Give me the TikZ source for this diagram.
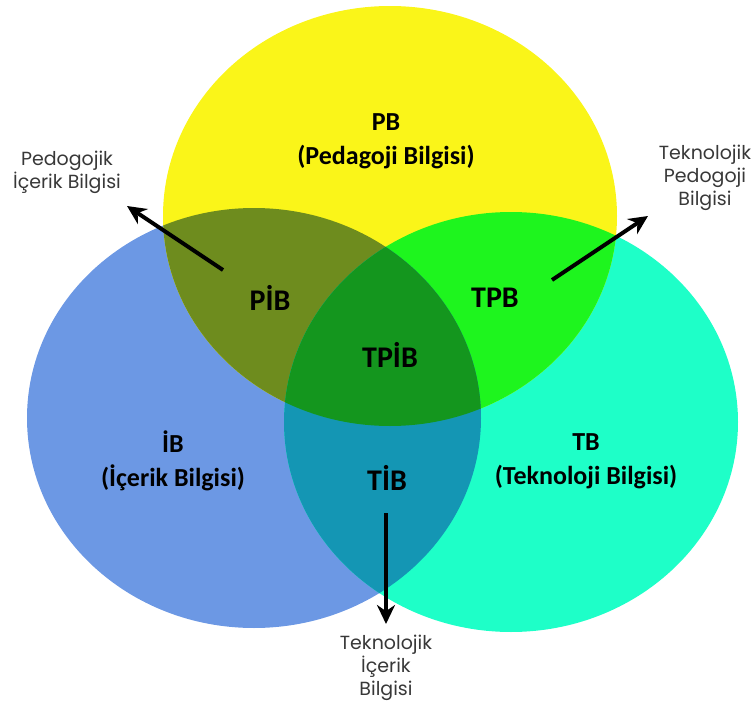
\documentclass[tikz,border=0pt]{standalone}
\usepackage{fontspec}
\setmainfont{Carlito}
\newfontfamily\smallfont{Poppins}
\usetikzlibrary{arrows.meta}
\definecolor{cyel}{RGB}{250,245,25}
\definecolor{cblue}{RGB}{108,152,228}
\definecolor{cteal}{RGB}{30,255,200}
\definecolor{colive}{RGB}{110,140,30}
\definecolor{cgreen}{RGB}{30,245,30}
\definecolor{ccyan}{RGB}{20,150,180}
\definecolor{cdark}{RGB}{20,150,30}
\begin{document}
\begin{tikzpicture}[x=1pt,y=-1pt,
  big/.style={font=\bfseries\fontsize{26}{34}\selectfont, align=center, inner sep=0pt},
  mid/.style={font=\bfseries\fontsize{30}{34}\selectfont, align=center, inner sep=0pt},
  small/.style={font=\smallfont\fontsize{19}{23}\selectfont, text=black!78, align=center, inner sep=0pt},
  arr/.style={line width=4pt, -{Stealth[length=19pt,width=18pt]}}]
\useasboundingbox (0,0) rectangle (756,704);
\def\ellY{(390,216) ellipse [x radius=227pt, y radius=210pt]}
\def\ellB{(254,418) ellipse [x radius=227pt, y radius=210pt]}
\def\ellT{(511,422) ellipse [x radius=227pt, y radius=210pt]}
\fill[cblue] \ellB;
\fill[cteal] \ellT;
\fill[cyel] \ellY;
\begin{scope}\clip \ellY; \fill[colive] \ellB; \fill[cgreen] \ellT; \end{scope}
\begin{scope}\clip \ellB; \fill[ccyan] \ellT; \end{scope}
\begin{scope}\clip \ellY; \clip \ellB; \fill[cdark] \ellT; \end{scope}
% region labels
\node[big] (pb) at (386,141) {PB\\(Pedagoji Bilgisi)};
\node[big] (ib) at (173,461) {İB\\(İçerik Bilgisi)};
\node[big] (tb) at (586,461) {TB\\(Teknoloji Bilgisi)};
\node[mid] (pib) at (270,298) {PİB};
\node[mid] (tpb) at (495,298) {TPB};
\node[mid] (tpib) at (390,355) {TPİB};
\node[mid] (tib) at (387,478) {TİB};
% outer labels
\node[small] (lpib) at (67,172) {Pedogojik\\İçerik Bilgisi};
\node[small] (ltpb) at (705,178) {Teknolojik\\Pedogoji\\Bilgisi};
\node[small] (ltib) at (386,668) {Teknolojik\\İçerik\\Bilgisi};
% arrows
\coordinate (a1s) at (223,270); \coordinate (a1e) at (127,206);
\coordinate (a2s) at (552,280); \coordinate (a2e) at (648,216);
\coordinate (a3s) at (386,513); \coordinate (a3e) at (386,624);
\draw[arr] (a1s) -- (a1e);
\draw[arr] (a2s) -- (a2e);
\draw[arr] (a3s) -- (a3e);
\end{tikzpicture}
\end{document}
